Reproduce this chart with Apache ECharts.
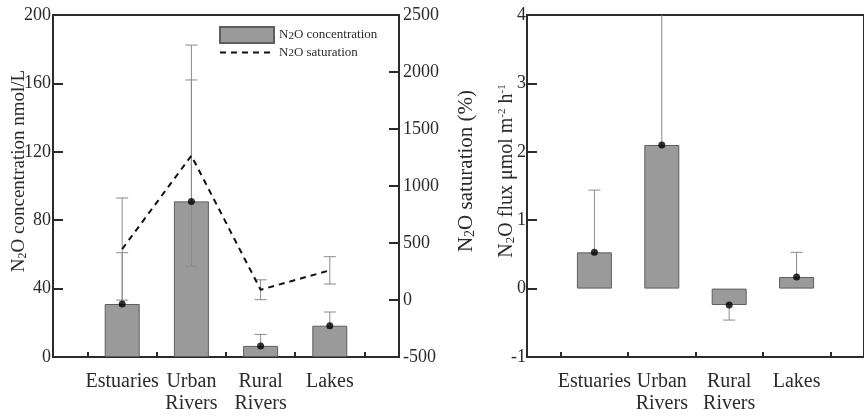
<!DOCTYPE html>
<html lang="en">
<head>
    <meta charset="UTF-8">
    <title>N2O</title>
    <script src="https://cdn.jsdelivr.net/npm/echarts@6/dist/echarts.min.js"></script>
    <style type="text/css">
        html, body { margin: 0; padding: 0; background: #fff; }
        #main { width: 864px; height: 416px; }
    </style>
</head>
<body>
<div id="main"></div>
<script type="text/javascript">
    // categories (placed at 1..4 on a 0..5 axis, ticks between them)
    var categories = ['Estuaries', 'Urban\nRivers', 'Rural\nRivers', 'Lakes'];
    var catPos = [1, 2, 3, 4];
    var tickPos = [0.5, 1.5, 2.5, 3.5, 4.5];

    // left panel
    var concMean = [31, 91, 6.5, 18.3];      // nmol/L
    var concErr = [30, 71, 6.7, 8];
    var satMean = [447, 1266, 90, 260];      // %
    var satErr = [448, 970, 87, 120];

    // right panel
    var fluxMean = [0.53, 2.1, -0.24, 0.17]; // umol m-2 h-1
    var fluxErr = [0.91, 2.6, 0.22, 0.36];

    var concTicks = [0, 200, 40];
    var satTicks = [-500, 2500, 500];
    var fluxTicks = [-1, 4, 1];

    var serif = 'Liberation Serif';
    var ink = '#2b2b2b';
    var errColor = '#8a8a8a';

    function pts(vals) {
        return vals.map(function (v, i) { return [catPos[i], v]; });
    }
    // [x, from, to, capAtFrom]
    function oneSided(mean, err) {
        return mean.map(function (v, i) {
            var sign = v < 0 ? -1 : 1;
            return [catPos[i], v, v + sign * err[i], 0];
        });
    }
    function twoSided(mean, err) {
        return mean.map(function (v, i) { return [catPos[i], v - err[i], v + err[i], 1]; });
    }

    function renderErr(params, api) {
        var x = api.value(0);
        var a = api.coord([x, api.value(1)]);
        var b = api.coord([x, api.value(2)]);
        var cs = params.coordSys;
        var capB = true, capA = api.value(3) === 1;
        var top = cs.y, bottom = cs.y + cs.height;
        if (b[1] < top) { b[1] = top; capB = false; }
        if (b[1] > bottom) { b[1] = bottom; capB = false; }
        if (a[1] < top) { a[1] = top; capA = false; }
        if (a[1] > bottom) { a[1] = bottom; capA = false; }
        var st = { stroke: errColor, lineWidth: 1 };
        var kids = [{ type: 'line', shape: { x1: a[0], y1: a[1], x2: b[0], y2: b[1] }, style: st }];
        if (capB) kids.push({ type: 'line', shape: { x1: b[0] - 6, y1: b[1], x2: b[0] + 6, y2: b[1] }, style: st });
        if (capA) kids.push({ type: 'line', shape: { x1: a[0] - 6, y1: a[1], x2: a[0] + 6, y2: a[1] }, style: st });
        return { type: 'group', children: kids };
    }

    var axisLineStyle = { color: ink, width: 2 };

    function nameRich(size) {
        return {
            s: { fontFamily: serif, fontSize: Math.round(size * 0.65), color: ink, verticalAlign: 'bottom', padding: [7, 0, 0, 0] },
            p: { fontFamily: serif, fontSize: Math.round(size * 0.55), color: ink, verticalAlign: 'top', padding: [0, 0, 7, 0] }
        };
    }

    function xAxisFor(grid) {
        return {
            type: 'value', gridIndex: grid, min: 0, max: 5,
            axisLine: { show: true, onZero: false, lineStyle: axisLineStyle },
            axisTick: { show: true, inside: true, length: 5, customValues: tickPos, lineStyle: { color: ink, width: 2 } },
            axisLabel: {
                customValues: catPos, margin: 14, lineHeight: 22,
                fontFamily: serif, fontSize: 20, color: ink,
                formatter: function (v) { return categories[Math.round(v) - 1] || ''; }
            },
            splitLine: { show: false }
        };
    }
    function yAxisFor(grid, t, pos, name, gap, size, margin) {
        return {
            type: 'value', gridIndex: grid, position: pos,
            min: t[0], max: t[1], interval: t[2],
            axisLine: { show: true, lineStyle: axisLineStyle },
            axisTick: { show: true, inside: true, length: 10, lineStyle: { color: ink, width: 2 } },
            axisLabel: {
                margin: margin, fontFamily: serif, fontSize: 18, color: ink,
                formatter: function (v) { return String(v); }
            },
            splitLine: { show: false },
            name: name, nameLocation: 'middle', nameRotate: 90, nameGap: gap,
            nameMoveOverlap: false,
            nameTextStyle: {
                fontFamily: serif, fontSize: size, color: ink,
                padding: [0, 0, 0, 30], rich: nameRich(size)
            }
        };
    }

    var chart = echarts.init(document.getElementById('main'));
    var option = {
        animation: false,
        backgroundColor: '#fff',
        grid: [
            { left: 53, top: 15, width: 346, height: 342, show: true, borderColor: ink, borderWidth: 2, backgroundColor: 'transparent' },
            { left: 527, top: 15, width: 346, height: 342, show: true, borderColor: ink, borderWidth: 2, backgroundColor: 'transparent' }
        ],
        legend: {
            left: 214, top: 21, orient: 'vertical',
            itemWidth: 54, itemHeight: 16, itemGap: 2,
            data: [
                { name: 'N2O concentration', icon: 'rect' },
                { name: 'N2O saturation', itemStyle: { opacity: 0 } }
            ],
            formatter: function (n) { return n.replace('N2O', 'N{s|2}O'); },
            textStyle: {
                fontFamily: serif, fontSize: 13, color: ink,
                rich: { s: { fontFamily: serif, fontSize: 11, color: ink, padding: [2, 0, 0, 0] } }
            }
        },
        xAxis: [xAxisFor(0), xAxisFor(1)],
        yAxis: [
            yAxisFor(0, concTicks, 'left', 'N{s|2}O concentration nmol/L', 24, 19, 2),
            yAxisFor(0, satTicks, 'right', 'N{s|2}O saturation (%)', 57, 21, 4),
            yAxisFor(1, fluxTicks, 'left', 'N{s|2}O flux \u03bcmol m{p|-2} h{p|-1}', 10, 20, 1)
        ],
        series: [
            {
                name: 'N2O concentration', type: 'bar', xAxisIndex: 0, yAxisIndex: 0,
                barWidth: 35, data: pts(concMean),
                itemStyle: { color: '#9a9a9a', borderColor: '#5e5e5e', borderWidth: 1 }
            },
            {
                type: 'custom', xAxisIndex: 0, yAxisIndex: 1, z: 3,
                renderItem: renderErr, data: twoSided(satMean, satErr)
            },
            {
                type: 'custom', xAxisIndex: 0, yAxisIndex: 0, z: 3,
                renderItem: renderErr, data: oneSided(concMean, concErr)
            },
            {
                name: 'N2O saturation', type: 'line', xAxisIndex: 0, yAxisIndex: 1, z: 4,
                data: pts(satMean), symbol: 'none',
                lineStyle: { color: '#111', width: 2, type: [6, 5] },
                itemStyle: { color: '#111' }
            },
            {
                type: 'scatter', xAxisIndex: 0, yAxisIndex: 0, z: 5,
                data: pts(concMean), symbolSize: 7, itemStyle: { color: '#000' }
            },
            {
                type: 'bar', xAxisIndex: 1, yAxisIndex: 2,
                barWidth: 35, data: pts(fluxMean),
                itemStyle: { color: '#9a9a9a', borderColor: '#5e5e5e', borderWidth: 1 }
            },
            {
                type: 'custom', xAxisIndex: 1, yAxisIndex: 2, z: 3,
                renderItem: renderErr, data: oneSided(fluxMean, fluxErr)
            },
            {
                type: 'scatter', xAxisIndex: 1, yAxisIndex: 2, z: 5,
                data: pts(fluxMean), symbolSize: 7, itemStyle: { color: '#000' }
            }
        ]
    };
    chart.setOption(option);
</script>
</body>
</html>
